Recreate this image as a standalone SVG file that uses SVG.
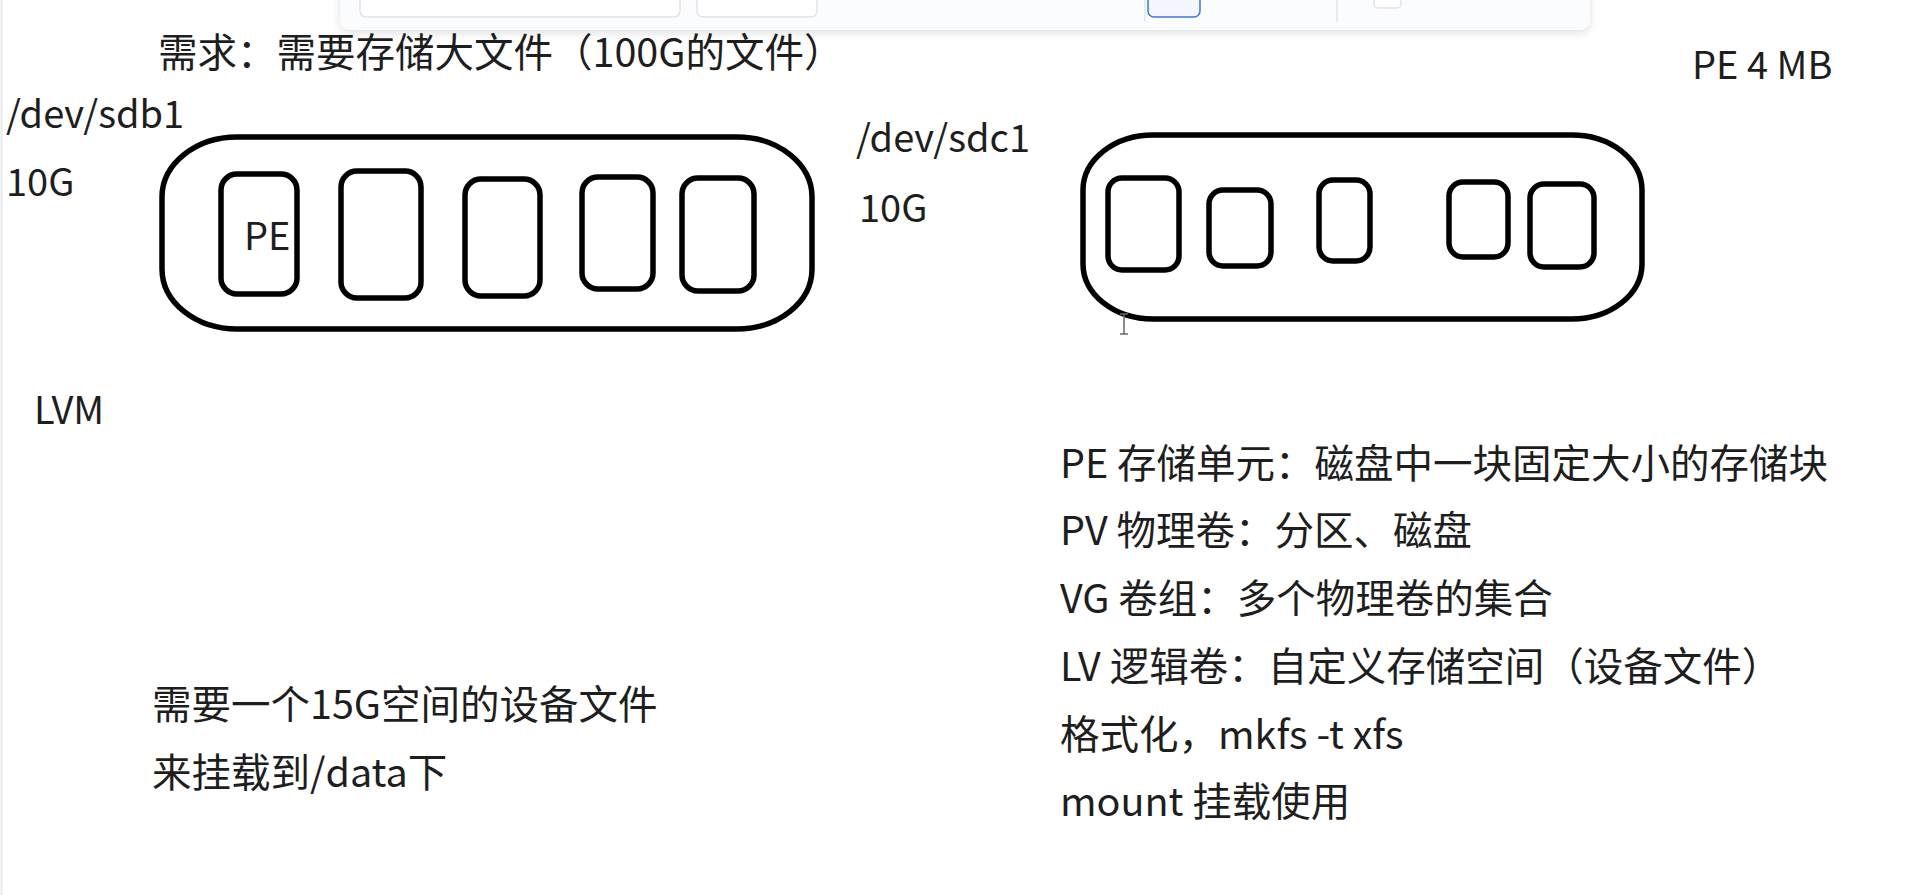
<svg xmlns="http://www.w3.org/2000/svg" width="1910" height="895" viewBox="0 0 1910 895">
<defs>
<style>
.t{font-family:"Noto Sans CJK SC","Microsoft YaHei","Noto Sans",sans-serif;font-size:39.5px;fill:#1e1e1e}
.l{font-size:38px}
.disk{fill:none;stroke:#000;stroke-width:5.5}
.pe{fill:none;stroke:#000;stroke-width:5.5}
.tb{fill:#fff;stroke:#e2e4e8;stroke-width:1.5}
</style>
<filter id="sh" x="-5%" y="-50%" width="110%" height="250%"><feDropShadow dx="0" dy="3" stdDeviation="5" flood-color="#000" flood-opacity="0.12"/></filter>
</defs>
<rect width="1910" height="895" fill="#fff"/>
<line x1="1.5" y1="0" x2="1.5" y2="895" stroke="#e6eaee" stroke-width="2"/>
<g id="toolbar">
<rect x="340" y="-20" width="1250" height="50" rx="10" fill="#fbfcfd" filter="url(#sh)"/>
<rect x="360" y="-10" width="320" height="27" rx="6" class="tb"/>
<rect x="697" y="-10" width="120" height="27" rx="6" class="tb"/>
<line x1="1145" y1="-5" x2="1145" y2="22" stroke="#e2e4e8" stroke-width="1.5"/>
<rect x="1148" y="-10" width="52" height="27" rx="6" fill="#f3f6fa" stroke="#3b78d8" stroke-width="1.5"/>
<line x1="1337" y1="-5" x2="1337" y2="22" stroke="#e2e4e8" stroke-width="1.5"/>
<rect x="1374" y="-10" width="27" height="18" rx="4" class="tb" stroke="#9aa0a6"/>
</g>
<g id="title"><text class="t" x="158" y="67">需求：需要存储大文件（100G的文件）</text></g>
<g id="pe-size"><text class="t l" x="1692" y="79">PE 4 MB</text></g>
<g id="sdb1">
<text class="t l" x="6" y="128">/dev/sdb1</text>
<text class="t l" x="6" y="196">10G</text>
<rect class="disk" x="162" y="137" width="650" height="192" rx="75" ry="60"/>
<rect class="pe" x="221" y="174" width="76" height="120" rx="16"/>
<text class="t l" x="244" y="250">PE</text>
<rect class="pe" x="341" y="171" width="80" height="127" rx="16"/>
<rect class="pe" x="465" y="179" width="75" height="117" rx="16"/>
<rect class="pe" x="582" y="177" width="71" height="112" rx="16"/>
<rect class="pe" x="682" y="178" width="72" height="113" rx="16"/>
</g>
<g id="sdc1">
<text class="t l" x="856" y="152">/dev/sdc1</text>
<text class="t l" x="859" y="222">10G</text>
<rect class="disk" x="1083" y="135" width="559" height="184" rx="70" ry="55"/>
<rect class="pe" x="1108" y="178" width="71" height="92" rx="14"/>
<rect class="pe" x="1209" y="190" width="62" height="76" rx="14"/>
<rect class="pe" x="1319" y="180" width="51" height="81" rx="14"/>
<rect class="pe" x="1449" y="182" width="59" height="75" rx="14"/>
<rect class="pe" x="1530" y="184" width="64" height="83" rx="14"/>
</g>
<g id="cursor" stroke="#666" stroke-width="1.5">
<line x1="1124" y1="314" x2="1124" y2="334"/>
<line x1="1120" y1="314" x2="1128" y2="314"/>
<line x1="1120" y1="334" x2="1128" y2="334"/>
</g>
<g id="lvm"><text class="t l" x="34" y="424">LVM</text></g>
<g id="definitions">
<text class="t" x="1060" y="478">PE 存储单元：磁盘中一块固定大小的存储块</text>
<text class="t" x="1060" y="545">PV 物理卷：分区、磁盘</text>
<text class="t" x="1060" y="613">VG 卷组：多个物理卷的集合</text>
<text class="t" x="1060" y="681">LV 逻辑卷：自定义存储空间（设备文件）</text>
<text class="t" x="1060" y="749">格式化，mkfs -t xfs</text>
<text class="t" x="1060" y="816">mount 挂载使用</text>
</g>
<g id="requirement">
<text class="t" x="152" y="719">需要一个15G空间的设备文件</text>
<text class="t" x="152" y="787">来挂载到/data下</text>
</g>
<g id="connectors"></g>
</svg>
